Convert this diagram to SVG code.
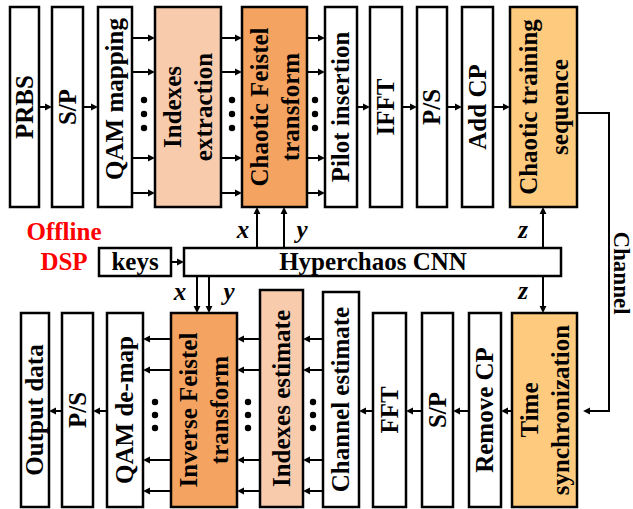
<svg xmlns="http://www.w3.org/2000/svg" width="633" height="509" viewBox="0 0 633 509">
<style>
.b{stroke:#000;stroke-width:2.5;}
.w{fill:#fff;}
.pe{fill:#f8cbad;}
.or{fill:#f4a460;}
.go{fill:#fdca7e;}
text{font-family:"Liberation Serif","Times New Roman",serif;font-weight:bold;font-size:25px;fill:#000;}
.v{text-anchor:middle;}
.lab{font-style:italic;text-anchor:middle;}
.red{fill:#ff0000;text-anchor:middle;}
.c path{fill:none;stroke:#000;stroke-width:2;marker-end:url(#ah);}
.dot{fill:#000;}
</style>
<defs>
<marker id="ah" viewBox="0 0 10 10" refX="3" refY="5" markerWidth="7" markerHeight="8" markerUnits="userSpaceOnUse" orient="auto">
<path d="M0,0L10,5L0,10z" fill="#000"/>
</marker>
</defs>
<rect width="633" height="509" fill="#fff"/>

<g id="prbs"><rect class="b w" x="10" y="7" width="29" height="200"/><text class="v" transform="translate(24.5,107) rotate(-90)" dy="8">PRBS</text></g>
<g id="sp1"><rect class="b w" x="52" y="7" width="31" height="200"/><text class="v" transform="translate(67.5,107) rotate(-90)" dy="8">S/P</text></g>
<g id="qam"><rect class="b w" x="98" y="7" width="34" height="200"/><text class="v" transform="translate(115,99) rotate(-90)" dy="8">QAM mapping</text></g>
<g id="idxext"><rect class="b pe" x="155" y="7" width="66" height="200"/><text class="v" transform="translate(188,107) rotate(-90)"><tspan x="0" y="-7">Indexes</tspan><tspan x="0" y="24">extraction</tspan></text></g>
<g id="cft"><rect class="b or" x="242" y="7" width="65" height="200"/><text class="v" transform="translate(274.5,107) rotate(-90)"><tspan x="0" y="-7">Chaotic Feistel</tspan><tspan x="0" y="24">transform</tspan></text></g>
<g id="pilot"><rect class="b w" x="325" y="7" width="32" height="200"/><text class="v" transform="translate(341,107) rotate(-90)" dy="8">Pilot insertion</text></g>
<g id="ifft"><rect class="b w" x="370" y="7" width="32" height="200"/><text class="v" transform="translate(386,107) rotate(-90)" dy="8">IFFT</text></g>
<g id="ps1"><rect class="b w" x="417" y="7" width="30" height="200"/><text class="v" transform="translate(432,107) rotate(-90)" dy="8">P/S</text></g>
<g id="addcp"><rect class="b w" x="462" y="7" width="31" height="200"/><text class="v" transform="translate(477.5,107) rotate(-90)" dy="8">Add CP</text></g>
<g id="cts"><rect class="b go" x="510" y="7" width="67" height="200"/><text class="v" transform="translate(543.5,107) rotate(-90)"><tspan x="0" y="-7">Chaotic training</tspan><tspan x="0" y="24">sequence</tspan></text></g>

<g id="offline"><text class="red" x="64" y="240">Offline</text><text class="red" x="64" y="270">DSP</text></g>
<g id="keys"><rect class="b w" x="99" y="248" width="72" height="28"/><text x="135" y="270" text-anchor="middle">keys</text></g>
<g id="cnn"><rect class="b w" x="184" y="248" width="377" height="28"/><text x="373" y="270" text-anchor="middle">Hyperchaos CNN</text></g>

<g id="out"><rect class="b w" x="21" y="313" width="28" height="194"/><text class="v" transform="translate(35,410) rotate(-90)" dy="8">Output data</text></g>
<g id="ps2"><rect class="b w" x="62" y="313" width="31" height="194"/><text class="v" transform="translate(77.5,410) rotate(-90)" dy="8">P/S</text></g>
<g id="qamde"><rect class="b w" x="107" y="313" width="36" height="194"/><text class="v" transform="translate(125,410) rotate(-90)" dy="8">QAM de-map</text></g>
<g id="ift"><rect class="b or" x="171" y="313" width="66" height="194"/><text class="v" transform="translate(204,410) rotate(-90)"><tspan x="0" y="-7">Inverse Feistel</tspan><tspan x="0" y="24">transform</tspan></text></g>
<g id="idxest"><rect class="b pe" x="260" y="290" width="43" height="217"/><text class="v" transform="translate(281.5,398.5) rotate(-90)" dy="8">Indexes estimate</text></g>
<g id="chest"><rect class="b w" x="323" y="292" width="36" height="215"/><text class="v" transform="translate(341,399.5) rotate(-90)" dy="8">Channel estimate</text></g>
<g id="fft"><rect class="b w" x="373" y="313" width="33" height="194"/><text class="v" transform="translate(389.5,410) rotate(-90)" dy="8">FFT</text></g>
<g id="sp2"><rect class="b w" x="422" y="313" width="31" height="194"/><text class="v" transform="translate(437.5,410) rotate(-90)" dy="8">S/P</text></g>
<g id="rmcp"><rect class="b w" x="469" y="313" width="32" height="194"/><text class="v" transform="translate(485,410) rotate(-90)" dy="8">Remove CP</text></g>
<g id="tsync"><rect class="b go" x="512" y="313" width="65" height="194"/><text class="v" transform="translate(544.5,410) rotate(-90)"><tspan x="0" y="-7">Time</tspan><tspan x="0" y="24">synchronization</tspan></text></g>

<g id="connectors" class="c">
<path d="M39,107H47"/><path d="M83,107H93"/>
<path d="M132,38H150"/><path d="M132,72H150"/><path d="M132,158H150"/><path d="M132,193H150"/>
<path d="M221,38H237"/><path d="M221,72H237"/><path d="M221,158H237"/><path d="M221,193H237"/>
<path d="M307,38H320"/><path d="M307,72H320"/><path d="M307,158H320"/><path d="M307,193H320"/>
<path d="M357,107H365"/><path d="M402,107H412"/><path d="M447,107H457"/><path d="M493,107H505"/>
<path d="M257,248V212"/><path d="M284,248V212"/><path d="M543,248V212"/>
<path d="M197,276V308"/><path d="M209,276V308"/><path d="M543,276V308"/>
<path d="M171,262H179"/>
<path d="M577,113H609V411H588"/>
<path d="M512,411H506"/><path d="M469,411H458"/><path d="M422,411H411"/><path d="M373,411H364"/><path d="M107,411H98"/><path d="M62,411H54"/>
<path d="M323,339H308"/><path d="M323,370H308"/><path d="M323,460H308"/><path d="M323,491H308"/>
<path d="M260,339H242"/><path d="M260,370H242"/><path d="M260,460H242"/><path d="M260,491H242"/>
<path d="M171,339H148"/><path d="M171,370H148"/><path d="M171,460H148"/><path d="M171,491H148"/>
</g>

<g id="dots" class="dot">
<circle cx="144" cy="100" r="3.2"/><circle cx="144" cy="114" r="3.2"/><circle cx="144" cy="128" r="3.2"/>
<circle cx="232" cy="100" r="3.2"/><circle cx="232" cy="114" r="3.2"/><circle cx="232" cy="128" r="3.2"/>
<circle cx="315" cy="100" r="3.2"/><circle cx="315" cy="114" r="3.2"/><circle cx="315" cy="128" r="3.2"/>
<circle cx="155" cy="402" r="3.2"/><circle cx="155" cy="415" r="3.2"/><circle cx="155" cy="428" r="3.2"/>
<circle cx="248" cy="402" r="3.2"/><circle cx="248" cy="415" r="3.2"/><circle cx="248" cy="428" r="3.2"/>
<circle cx="313" cy="402" r="3.2"/><circle cx="313" cy="415" r="3.2"/><circle cx="313" cy="428" r="3.2"/>
</g>

<g id="labels">
<text class="lab" x="243" y="238">x</text><text class="lab" x="302" y="238">y</text><text class="lab" x="523" y="238">z</text>
<text class="lab" x="180" y="300">x</text><text class="lab" x="229" y="300">y</text><text class="lab" x="523" y="299">z</text>
<text x="0" y="0" text-anchor="middle" style="font-size:23px" transform="translate(614,273) rotate(90)">Channel</text>
</g>
</svg>
